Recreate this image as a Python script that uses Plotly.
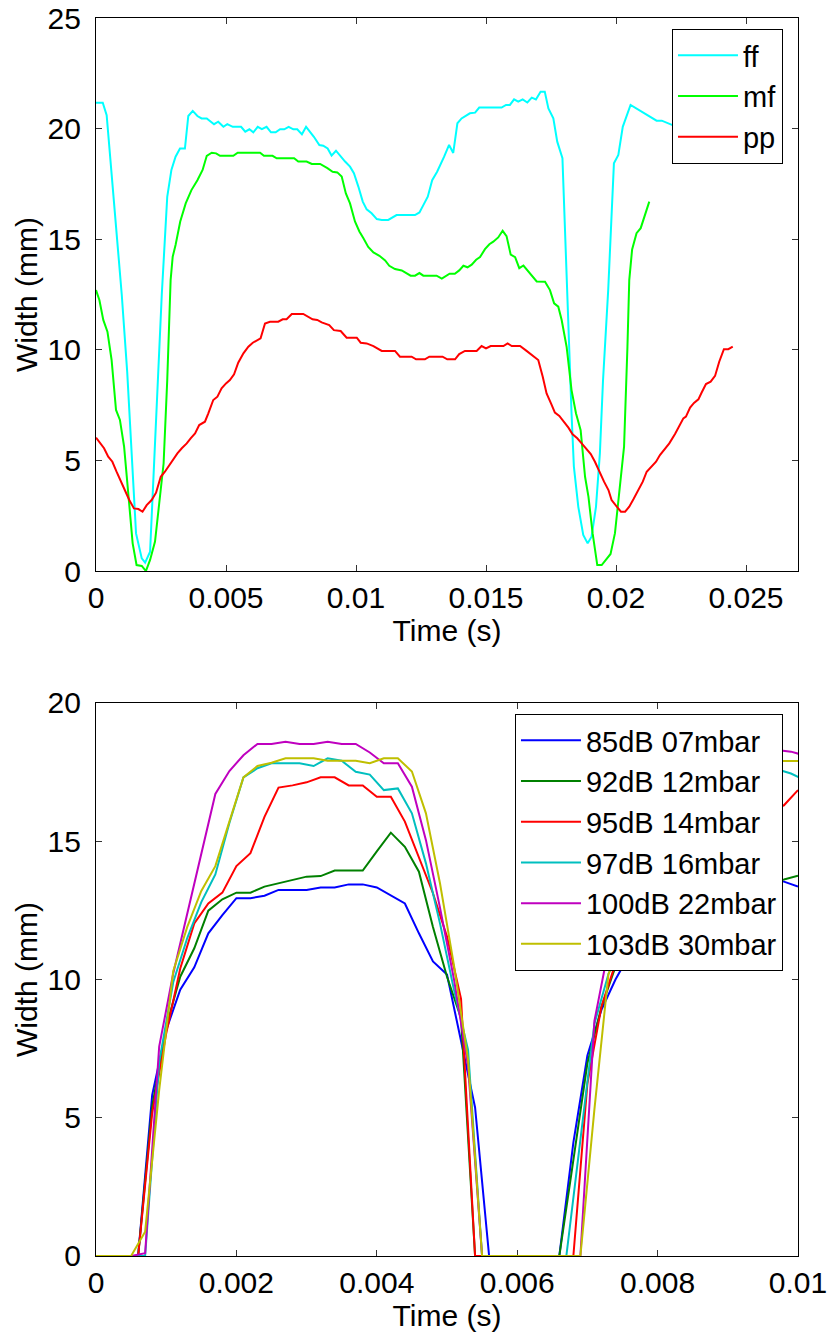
import numpy as np
import plotly.graph_objects as go

# ---------------- Top panel data (time in ms, width in mm) ----------------
ff_t = [0.0, 0.26, 0.41, 0.6, 0.79, 0.99, 1.2, 1.4, 1.54, 1.76, 1.89, 2.08, 2.25, 2.53, 2.74, 2.9, 3.06,
        3.23, 3.42, 3.55, 3.72, 3.9, 4.06, 4.26, 4.54, 4.7, 4.9, 5.05, 5.26, 5.58, 5.74, 5.9, 6.05, 6.22,
        6.38, 6.56, 6.73, 6.91, 7.08, 7.24, 7.41, 7.59, 7.74, 7.92, 8.08, 8.23, 8.38, 8.59, 8.74, 8.91,
        9.06, 9.23, 9.41, 9.58, 9.77, 9.92, 10.09, 10.26, 10.41, 10.6, 10.8, 10.99, 11.24, 11.56, 12.27,
        12.44, 12.59, 12.76, 12.93, 13.12, 13.39, 13.58, 13.74, 13.9, 14.06, 14.38, 14.58, 14.74, 15.6,
        15.77, 15.92, 16.08, 16.24, 16.41, 16.59, 16.76, 16.92, 17.1, 17.26, 17.4, 17.59, 17.74, 17.94,
        18.1, 18.29, 18.38, 18.55, 18.74, 18.91, 19.06, 19.23, 19.38, 19.5, 19.7, 19.92, 20.09, 20.26,
        20.56, 21.56, 21.76, 22.5, 23.5, 24.5, 25.5, 26.24, 26.37]
ff_w = [21.17, 21.17, 20.61, 17.98, 15.57, 12.5, 9.0, 5.0, 1.7, 0.57, 0.38, 0.87, 5.3, 12.5, 16.92, 18.13,
        18.73, 19.1, 19.1, 20.57, 20.8, 20.57, 20.46, 20.46, 20.2, 20.31, 20.08, 20.2, 20.08, 20.08, 19.86,
        19.97, 19.83, 20.08, 19.98, 20.08, 19.83, 19.83, 19.97, 19.97, 20.08, 19.97, 19.97, 19.74, 20.08,
        19.86, 19.63, 19.26, 19.23, 19.1, 18.78, 19.0, 18.73, 18.51, 18.28, 17.98, 17.38, 16.7, 16.35,
        16.17, 15.91, 15.87, 15.87, 16.09, 16.09, 16.21, 16.54, 16.92, 17.67, 18.05, 18.73, 19.26, 18.9,
        20.24, 20.46, 20.69, 20.72, 20.95, 20.95, 21.07, 21.07, 21.32, 21.22, 21.32, 21.18, 21.4, 21.32,
        21.67, 21.67, 20.91, 20.46, 19.41, 18.66, 13.15, 7.13, 4.72, 2.9, 1.63, 1.25, 1.55, 2.9, 5.32,
        8.6, 12.7, 18.43, 18.81, 20.08, 21.07, 20.36, 20.36, 20.0, 19.7, 19.4, 19.1, 18.81, 19.03]

mf_t = [0.0, 0.13, 0.28, 0.44, 0.6, 0.77, 0.92, 1.08, 1.24, 1.41, 1.56, 1.76, 1.92, 2.08, 2.27, 2.4, 2.6,
        2.74, 2.87, 2.95, 3.06, 3.24, 3.45, 3.67, 3.9, 4.1, 4.26, 4.45, 4.62, 4.77, 5.28, 5.45, 6.31, 6.46,
        6.79, 6.95, 7.62, 7.78, 8.1, 8.3, 8.62, 8.9, 9.1, 9.28, 9.45, 9.61, 9.77, 9.96, 10.13, 10.28, 10.47,
        10.67, 10.9, 11.12, 11.28, 11.5, 11.76, 12.1, 12.27, 12.44, 12.59, 13.1, 13.3, 13.6, 13.8, 13.97,
        14.13, 14.29, 14.45, 14.62, 14.77, 14.96, 15.13, 15.28, 15.47, 15.64, 15.79, 15.95, 16.12, 16.28,
        16.44, 16.95, 17.27, 17.46, 17.62, 17.78, 17.91, 18.1, 18.29, 18.46, 18.64, 18.81, 18.94, 19.1,
        19.28, 19.45, 19.62, 19.79, 19.96, 20.13, 20.31, 20.44, 20.51, 20.62, 20.79, 20.95, 21.12, 21.28]
mf_w = [12.7, 12.25, 11.35, 10.82, 9.54, 7.28, 6.83, 5.63, 3.52, 1.25, 0.27, 0.23, 0.0, 0.5, 1.33, 2.76,
        4.86, 8.63, 13.15, 14.21, 14.74, 15.8, 16.62, 17.22, 17.67, 18.13, 18.77, 18.91, 18.88, 18.77,
        18.77, 18.91, 18.91, 18.77, 18.77, 18.66, 18.66, 18.51, 18.51, 18.4, 18.4, 18.21, 18.05, 18.02,
        17.83, 17.07, 16.62, 15.8, 15.35, 15.05, 14.65, 14.4, 14.25, 14.04, 13.8, 13.65, 13.59, 13.35,
        13.35, 13.47, 13.35, 13.35, 13.22, 13.44, 13.44, 13.59, 13.8, 13.73, 13.85, 14.07, 14.19, 14.55,
        14.77, 14.89, 15.08, 15.38, 15.14, 14.3, 14.19, 13.69, 13.81, 13.09, 13.08, 12.7, 12.1, 11.95,
        11.35, 10.14, 8.18, 7.13, 6.37, 4.26, 3.36, 1.71, 0.27, 0.27, 0.5, 0.77, 1.71, 3.66, 5.62, 10.14,
        13.15, 14.54, 15.27, 15.5, 16.17, 16.7]

pp_t = [0.0, 0.15, 0.31, 0.47, 0.63, 0.79, 0.95, 1.12, 1.28, 1.46, 1.63, 1.79, 1.95, 2.14, 2.31, 2.49,
        2.65, 2.82, 2.97, 3.13, 3.3, 3.49, 3.64, 3.81, 3.97, 4.19, 4.32, 4.51, 4.67, 4.83, 5.0, 5.15, 5.31,
        5.47, 5.67, 5.86, 6.03, 6.18, 6.33, 6.5, 6.69, 7.01, 7.18, 7.33, 7.53, 7.97, 8.33, 8.51, 8.68, 8.97,
        9.15, 9.41, 9.64, 10.03, 10.18, 10.41, 10.67, 10.99, 11.5, 11.69, 12.14, 12.31, 12.65, 12.82,
        13.33, 13.51, 13.81, 13.97, 14.19, 14.64, 14.83, 15.0, 15.18, 15.67, 15.83, 15.99, 16.31, 16.56,
        16.82, 17.01, 17.18, 17.33, 17.5, 17.65, 17.82, 18.0, 18.17, 18.33, 18.51, 18.68, 18.85, 19.03,
        19.19, 19.36, 19.54, 19.71, 19.83, 20.03, 20.19, 20.35, 20.51, 20.67, 20.86, 21.03, 21.18, 21.37,
        21.54, 21.69, 21.88, 22.05, 22.27, 22.43, 22.59, 22.69, 22.85, 23.0, 23.17, 23.29, 23.46, 23.64,
        23.81, 23.97, 24.15, 24.32, 24.49]
pp_w = [6.03, 5.77, 5.55, 5.17, 4.94, 4.49, 4.04, 3.63, 3.21, 2.83, 2.8, 2.68, 2.98, 3.21, 3.54, 4.26,
        4.49, 4.79, 5.09, 5.32, 5.55, 5.77, 6.0, 6.22, 6.6, 6.75, 7.13, 7.73, 7.88, 8.26, 8.48, 8.63, 8.89,
        9.42, 9.84, 10.14, 10.32, 10.41, 10.52, 11.19, 11.27, 11.27, 11.38, 11.38, 11.62, 11.62, 11.38,
        11.35, 11.24, 11.12, 10.89, 10.85, 10.55, 10.55, 10.32, 10.29, 10.17, 9.95, 9.95, 9.69, 9.69, 9.57,
        9.57, 9.69, 9.69, 9.57, 9.57, 9.81, 9.95, 9.95, 10.17, 10.06, 10.17, 10.17, 10.29, 10.17, 10.17,
        9.95, 9.69, 9.54, 8.79, 8.03, 7.58, 7.16, 7.01, 6.75, 6.48, 6.18, 6.0, 5.77, 5.55, 5.29, 4.94, 4.49,
        4.04, 3.66, 3.21, 2.91, 2.68, 2.68, 2.91, 3.24, 3.63, 4.04, 4.49, 4.73, 4.94, 5.24, 5.55, 5.77,
        6.19, 6.52, 6.9, 6.98, 7.39, 7.6, 7.76, 8.06, 8.45, 8.56, 8.82, 9.46, 10.03, 10.03, 10.14]

# ---------------- Bottom panel data ----------------
# sample grids (ms): 0.2 ms sampling, two recordings offset by 0.1 ms
t_even = np.round(np.arange(0, 10.0001, 0.2), 4)      # 51 samples
t_odd = np.round(np.arange(-0.1, 10.1001, 0.2), 4)    # 52 samples

w_85 = [0, 0, 0, 0, 5.82, 8.17, 9.63, 10.44, 11.67, 12.33, 12.94, 12.94, 13.03, 13.24, 13.24, 13.24,
        13.33, 13.33, 13.44, 13.44, 13.33, 13.03, 12.75, 11.67, 10.65, 10.18, 7.8, 5.37, 0, 0, 0, 0, 0,
        0, 4.1, 7.25, 8.9, 10.0, 10.9, 11.6, 12.2, 12.6, 12.9, 13.1, 13.3, 13.4, 13.5, 13.6, 13.6, 13.54,
        13.36]
w_92 = [0, 0, 0, 0, 5.4, 8.3, 10.1, 11.13, 12.49, 12.9, 13.14, 13.14, 13.36, 13.48, 13.6, 13.72, 13.74,
        13.94, 13.94, 13.94, 14.63, 15.31, 14.8, 13.9, 11.9, 10.1, 8.6, 0, 0, 0, 0, 0, 0, 0, 3.47, 6.97,
        9.0, 10.46, 11.5, 12.2, 12.7, 13.0, 13.2, 13.3, 13.4, 13.4, 13.5, 13.5, 13.55, 13.62, 13.75]
w_95 = [0, 0, 0, 0, 5.16, 8.05, 10.4, 12.03, 12.75, 13.14, 14.1, 14.57, 15.88, 16.94, 17.02, 17.13,
        17.31, 17.31, 17.02, 17.02, 16.61, 16.61, 15.71, 14.44, 13.12, 11.55, 9.3, 0, 0, 0, 0, 0, 0, 0, 0,
        6.24, 9.02, 10.58, 11.6, 12.8, 13.8, 14.4, 14.8, 15.2, 15.5, 15.7, 15.9, 16.0, 16.1, 16.3, 16.85]
w_97 = [0, 0, 0, 0, 0, 7.0, 9.9, 11.5, 12.8, 13.8, 15.66, 17.31, 17.64, 17.82, 17.82, 17.82, 17.72, 18.0,
        17.91, 17.51, 17.41, 16.85, 16.91, 16.01, 14.2, 12.03, 9.62, 7.45, 0, 0, 0, 0, 0, 0, 0, 4.2, 8.4,
        10.2, 11.4, 13.0, 14.8, 16.0, 16.8, 17.2, 17.5, 17.7, 17.8, 17.8, 17.7, 17.6, 17.45, 17.2]
w_100 = [0, 0, 0, 0, 0.1, 7.57, 10.22, 12.42, 14.59, 16.71, 17.54, 18.11, 18.52, 18.52, 18.6, 18.52,
         18.52, 18.6, 18.52, 18.52, 18.21, 17.82, 17.82, 16.97, 15.04, 12.6, 10.0, 6.85, 0, 0, 0, 0, 0, 0,
         0, 0, 8.5, 11.1, 12.4, 14.5, 16.5, 17.6, 18.2, 18.5, 18.6, 18.6, 18.5, 18.5, 18.4, 18.3, 18.24,
         18.1]
w_103 = [0, 0, 0, 0, 0.88, 6.0, 10.3, 11.9, 13.2, 14.1, 15.71, 17.31, 17.72, 17.84, 18.0, 18.0, 18.0,
         17.91, 17.91, 17.91, 17.82, 18.0, 18.0, 17.52, 16.01, 13.48, 10.5, 7.09, 0, 0, 0, 0, 0, 0, 0, 0,
         5.3, 10.2, 11.3, 13.5, 15.6, 16.8, 17.4, 17.7, 17.9, 17.9, 17.9, 17.9, 17.9, 17.9, 17.91, 17.9]

top_names = ["ff", "mf", "pp"]
bottom_names = ["85dB 07mbar", "92dB 12mbar", "95dB 14mbar", "97dB 16mbar", "100dB 22mbar", "103dB 30mbar"]

top_xticks = [0, 0.005, 0.01, 0.015, 0.02, 0.025]
top_xticklabels = ["0", "0.005", "0.01", "0.015", "0.02", "0.025"]
top_yticks = [0, 5, 10, 15, 20, 25]
bot_xticks = [0, 0.002, 0.004, 0.006, 0.008, 0.01]
bot_xticklabels = ["0", "0.002", "0.004", "0.006", "0.008", "0.01"]
bot_yticks = [0, 5, 10, 15, 20]

FONT = "Liberation Sans, Arial, Helvetica, sans-serif"
FS = 30
LFS = 29

fig = go.Figure()

top_series = [(ff_t, ff_w, "#00FFFF"), (mf_t, mf_w, "#00FF00"), (pp_t, pp_w, "#FF0000")]
for name, (t, w, c) in zip(top_names, top_series):
    fig.add_trace(go.Scatter(x=np.array(t) * 1e-3, y=w, mode="lines", name=name,
                             line=dict(color=c, width=2), xaxis="x", yaxis="y", legend="legend"))

bot_series = [(t_even, w_85, "#0000FF"), (t_even, w_92, "#008000"), (t_even, w_95, "#FF0000"),
              (t_odd, w_97, "#00BFBF"), (t_odd, w_100, "#BF00BF"), (t_odd, w_103, "#BFBF00")]
for name, (t, w, c) in zip(bottom_names, bot_series):
    fig.add_trace(go.Scatter(x=np.array(t) * 1e-3, y=w, mode="lines", name=name,
                             line=dict(color=c, width=2), xaxis="x2", yaxis="y2", legend="legend2"))

axis_common = dict(showline=True, linecolor="black", linewidth=1.2, mirror="ticks", ticks="inside",
                   ticklen=6, tickcolor="#333333", tickwidth=1, showgrid=False, zeroline=False,
                   tickfont=dict(family=FONT, size=FS, color="black"),
                   layer="below traces", automargin=False)

fig.update_layout(
    width=830, height=1336,
    margin=dict(l=96, r=32, t=18, b=80),
    paper_bgcolor="white", plot_bgcolor="white",
    font=dict(family=FONT, size=FS, color="black"),
    xaxis=dict(domain=[0, 1], range=[0, 0.027], anchor="y", tickvals=top_xticks,
               ticktext=top_xticklabels, ticklabelstandoff=0,
               title=dict(text="Time (s)", font=dict(size=FS), standoff=2), **axis_common),
    yaxis=dict(domain=[0.5533, 1], range=[0, 25], anchor="x", tickvals=top_yticks,
               ticklabelstandoff=8,
               title=dict(text="Width (mm)", font=dict(size=FS), standoff=1), **axis_common),
    xaxis2=dict(domain=[0, 1], range=[0, 0.01], anchor="y2", tickvals=bot_xticks,
                ticktext=bot_xticklabels, ticklabelstandoff=0,
                title=dict(text="Time (s)", font=dict(size=FS), standoff=2), **axis_common),
    yaxis2=dict(domain=[0, 0.4467], range=[0, 20], anchor="x2", tickvals=bot_yticks,
                ticklabelstandoff=8,
                title=dict(text="Width (mm)", font=dict(size=FS), standoff=1), **axis_common),
    legend=dict(x=0.9786, y=0.9911, xanchor="right", yanchor="top", bgcolor="white",
                bordercolor="black", borderwidth=1, font=dict(family=FONT, size=LFS),
                itemwidth=60, tracegroupgap=0),
    legend2=dict(x=0.9786, y=0.4378, xanchor="right", yanchor="top", bgcolor="white",
                 bordercolor="black", borderwidth=1, font=dict(family=FONT, size=LFS),
                 itemwidth=60, tracegroupgap=0),
    showlegend=True,
)

fig.write_html("out.html", config={"displayModeBar": False},
               post_script="document.body.style.margin='0px';")
